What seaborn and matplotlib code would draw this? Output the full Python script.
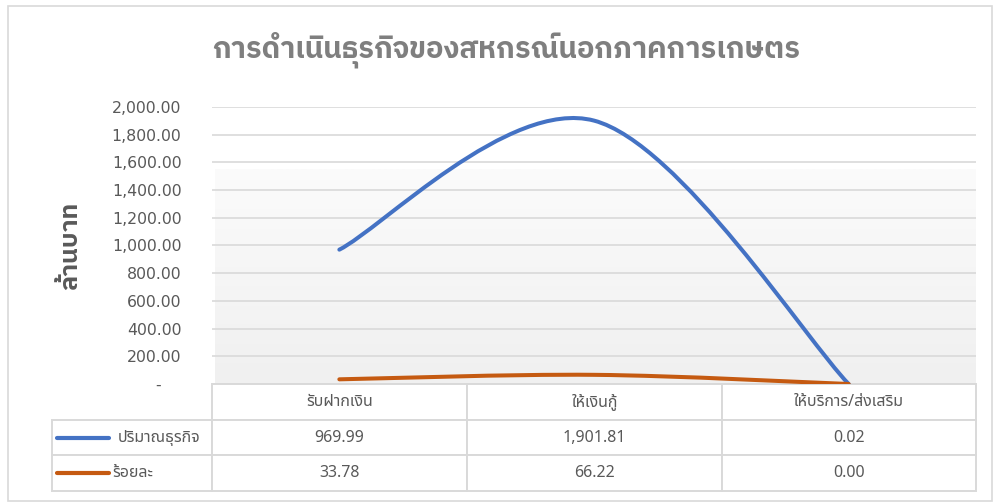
import matplotlib
matplotlib.use("Agg")
import numpy as np
import matplotlib.pyplot as plt
import seaborn as sns
from matplotlib import font_manager as fm
from matplotlib.path import Path
from matplotlib.patches import PathPatch, Rectangle
from matplotlib.lines import Line2D
from matplotlib.colors import LinearSegmentedColormap

# ข้อมูล
categories = ['รับฝากเงิน', 'ให้เงินกู้', 'ให้บริการ/ส่งเสริม']
series_names = ['ปริมาณธุรกิจ', 'ร้อยละ']
volume = [969.99, 1901.81, 0.02]
percent = [33.78, 66.22, 0.00]
yticks = [0, 200, 400, 600, 800, 1000, 1200, 1400, 1600, 1800, 2000]
colors = ['#4472C4', '#C55A11']

sns.set_theme(style="whitegrid")
thai = ['Noto Sans Thai', 'DejaVu Sans']
plt.rcParams['font.family'] = ['DejaVu Sans']

# หาฟอนต์ไทยที่มีตัวหนาจริง
thai_bold = thai
for fam in ['Noto Sans Thai', 'Noto Sans Thai UI', 'IBM Plex Sans Thai', 'Sarabun', 'Prompt']:
    try:
        f = fm.findfont(fm.FontProperties(family=fam, weight='bold'), fallback_to_default=False)
        if 'bold' in f.lower():
            thai_bold = [fam, 'DejaVu Sans']
            break
    except Exception:
        pass


def smooth_path(xs, ys):
    # เส้นโค้งแบบ smoothed line ของ Excel (Bezier)
    pts = list(zip(xs, ys))
    verts = [pts[0]]
    codes = [Path.MOVETO]
    n = len(pts)
    for i in range(n - 1):
        p0 = pts[i - 1] if i > 0 else pts[i]
        p1 = pts[i]
        p2 = pts[i + 1]
        p3 = pts[i + 2] if i + 2 < n else pts[i + 1]
        c1 = (p1[0] + (p2[0] - p0[0]) / 6, p1[1] + (p2[1] - p0[1]) / 6)
        c2 = (p2[0] - (p3[0] - p1[0]) / 6, p2[1] - (p3[1] - p1[1]) / 6)
        verts += [c1, c2, p2]
        codes += [Path.CURVE4] * 3
    return Path(verts, codes)


fig = plt.figure(figsize=(9.94, 5.03), dpi=100)
fig.patch.set_facecolor('white')
W, H = 994, 503
x0, x1, ytop, ybot = 212, 976, 107, 384
ax = fig.add_axes([x0 / W, 1 - ybot / H, (x1 - x0) / W, (ybot - ytop) / H])
ax.set_facecolor('white')

# พื้นหลังไล่สี
grad = np.linspace(0, 1, 100).reshape(-1, 1)
cmap = LinearSegmentedColormap.from_list('g', ['#f0f0f0', '#fbfbfb'])
ax.imshow(grad, cmap=cmap, aspect='auto', origin='lower',
          extent=(0.004, 1, 0, 0.773), transform=ax.transAxes, zorder=0)

xs = np.arange(len(categories))
for vals, c in zip([volume, percent], colors):
    ax.add_patch(PathPatch(smooth_path(xs, vals), facecolor='none', edgecolor=c,
                           lw=2.9, capstyle='round', zorder=3))

ax.set_xlim(-0.5, len(categories) - 0.5)
ax.set_ylim(0, 2000)
ax.set_yticks(yticks)
ax.set_yticklabels(['-\u2007\u2007' if v == 0 else f'{v:,.2f}' for v in yticks],
                   fontsize=11.3, color='#595959')
ax.tick_params(axis='y', length=0, pad=22)
ax.set_xticks([])
ax.grid(axis='y', color='#d9d9d9', lw=1.2)
ax.grid(axis='x', visible=False)
for s in ax.spines.values():
    s.set_visible(False)

ax.set_ylabel('ล้านบาท', family=thai_bold, fontsize=18, fontweight='bold',
              color='#595959')
ax.yaxis.set_label_coords((82 - x0) / (x1 - x0), 0.50)

fig.text(506 / W, 1 - 50 / H, 'การดำเนินธุรกิจของสหกรณ์นอกภาคการเกษตร',
         family=thai_bold, fontsize=21, fontweight='bold', color='#7f7f7f',
         ha='center', va='center')

# ตารางข้อมูล
cell_text = [[''] + categories]
for name, vals in zip(series_names, [volume, percent]):
    cell_text.append([''] + [f'{v:,.2f}' for v in vals])
tx0 = (52 - x0) / (x1 - x0)
th = (491 - ybot) / (ybot - ytop)
tbl = ax.table(cellText=cell_text, colWidths=[160, 255, 255, 254],
               cellLoc='center', bbox=[tx0, -th, 1 - tx0, th])
tbl.auto_set_font_size(False)
for (r, c), cell in tbl.get_celld().items():
    cell.set_edgecolor('#d9d9d9')
    cell.set_linewidth(1.4)
    cell.set_facecolor('white')
    cell.get_text().set_color('#595959')
    cell.get_text().set_fontsize(11.5)
    cell.get_text().set_family(thai)
    if r == 0 and c == 0:
        cell.set_edgecolor('none')
        cell.set_facecolor('none')

row_y = [(421 + 455) / 2, (455 + 491) / 2]
label_x = [118, 112]
for name, c, yy, lx in zip(series_names, colors, row_y, label_x):
    ya = (ybot - yy) / (ybot - ytop)
    ax.add_line(Line2D([(57 - x0) / (x1 - x0), (109 - x0) / (x1 - x0)], [ya, ya],
                       transform=ax.transAxes, color=c, lw=3, solid_capstyle='round',
                       clip_on=False))
    ax.text((lx - x0) / (x1 - x0), ya, name, transform=ax.transAxes, family=thai,
            fontsize=11.5, color='#595959', ha='left', va='center')

fig.add_artist(Rectangle((8 / W, 2 / H), 984 / W, 495 / H, transform=fig.transFigure,
                         fill=False, edgecolor='#d9d9d9', lw=1.2))

fig.savefig('out.png', dpi=100)
